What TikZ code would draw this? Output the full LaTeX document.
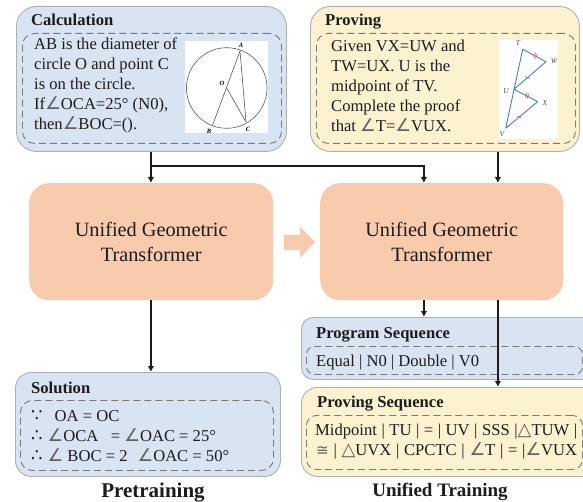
\documentclass[tikz,border=0pt]{standalone}
\usepackage{fontspec}
\setmainfont{Liberation Serif}
\newfontfamily\symf{DejaVu Sans}
\usetikzlibrary{arrows.meta,positioning,calc}
\definecolor{bluebg}{HTML}{D9E4F2}
\definecolor{yellowbg}{HTML}{FDF2CF}
\definecolor{orangebg}{HTML}{F8CBAD}
\definecolor{edgegray}{HTML}{ABB0B5}
\definecolor{dashgray}{HTML}{7A7A7A}
\definecolor{inkc}{HTML}{1C1C1C}
\definecolor{symc}{HTML}{606060}
\definecolor{figblue}{HTML}{4A7CC4}
\definecolor{figred}{HTML}{D9534F}
\newcommand{\ang}{{\symf\fontsize{17.5}{17.5}\selectfont\color{symc}∠}}
\newcommand{\tri}{{\symf\fontsize{18}{18}\selectfont\color{symc}△}}
\newcommand{\sy}[1]{{\symf\fontsize{18}{18}\selectfont #1}}
\newcommand{\congsym}{{\symf\fontsize{15}{15}\selectfont\color{symc}≅}}
\newcommand{\lowered}[1]{\raisebox{-1.5pt}{#1}}
\tikzset{
  outerbox/.style={draw=edgegray,line width=0.9pt,rounded corners=#1,inner sep=0pt,anchor=north west},
  outerbox/.default=20pt,
  innerbox/.style={draw=dashgray,line width=0.9pt,dash pattern=on 7pt off 4pt,rounded corners=12pt,inner sep=0pt,anchor=north west},
  head/.style={font=\fontsize{16.6}{18}\selectfont\bfseries,text=inkc,anchor=base west,inner sep=0pt},
  body/.style={font=\fontsize{16.6}{20}\selectfont,text=inkc,anchor=north west,align=left,inner sep=0pt},
  textline/.style={font=\fontsize{16.6}{20}\selectfont,text=inkc,anchor=base west,inner sep=0pt},
  unified/.style={fill=orangebg,rounded corners=20pt,inner sep=0pt,anchor=north west,minimum width=#1,minimum height=117pt,align=center,
    font=\fontsize{20.3}{25}\selectfont,text=inkc},
  caption/.style={font=\fontsize{21}{24}\selectfont\bfseries,text=inkc,anchor=base,inner sep=0pt},
  arrow/.style={draw=inkc,line width=1.3pt,-{Latex[length=6pt,width=6.5pt]}},
  fig/.style={fill=white,inner sep=0pt,anchor=north west},
  figlabel/.style={font=\fontsize{6.5}{6.5}\selectfont\itshape\bfseries,inner sep=0pt},
  figlabelb/.style={font=\fontsize{7.5}{7.5}\selectfont\itshape,text=black!70,inner sep=0pt},
  figline/.style={draw=black!65,line width=0.6pt},
  triline/.style={draw=figblue,line width=0.9pt},
  tickmark/.style={draw=figred,line width=0.6pt},
}
\begin{document}
\begin{tikzpicture}[x=1pt,y=-1pt]
\useasboundingbox (0,0) rectangle (583,502);
\clip (0,0) rectangle (583,502);
\fill[white] (0,0) rectangle (583,502);

% outer boxes
\node[outerbox,fill=bluebg,minimum width=270pt,minimum height=145pt] (calc) at (16,6) {};
\node[outerbox,fill=yellowbg,minimum width=269pt,minimum height=145pt] (prov) at (310,6) {};
\node[outerbox=16pt,fill=bluebg,minimum width=265pt,minimum height=104pt] (sol) at (15,372) {};
\node[outerbox=12pt,fill=bluebg,minimum width=300pt,minimum height=62pt] (prog) at (301,317) {};
\node[outerbox=16pt,fill=yellowbg,minimum width=300pt,minimum height=89pt] (pseq) at (301,387) {};

% dashed inner boxes
\node[innerbox,minimum width=259pt,minimum height=110pt] (calcin) at (22,33) {};
\node[innerbox,minimum width=259pt,minimum height=110pt] (provin) at (316,33) {};
\node[innerbox,minimum width=253pt,minimum height=70pt] (solin) at (20,400) {};
\node[innerbox,rounded corners=8pt,minimum width=276pt,minimum height=28pt] (progin) at (306,346) {};
\node[innerbox,rounded corners=10pt,minimum width=276pt,minimum height=54pt] (pseqin) at (306,415) {};

% headings
\node[head] (calch) at (31,26) {Calculation};
\node[head] (provh) at (325,26) {Proving};
\node[head] (solh) at (31,393) {Solution};
\node[head] (progh) at (316,338) {Program Sequence};
\node[head] (pseqh) at (317,407) {Proving Sequence};

% body text
\node[body] (calct) at (34,38) {AB is the diameter of\\circle O and point C\\is on the circle.\\If\ang OCA=25° (N0),\\then\ang BOC=().};
\node[body] (provt) at (331,40) {Given VX=UW and\\TW=UX. U is the\\midpoint of TV.\\Complete the proof\\that \ang T=\ang VUX.};
\node[textline] (sola) at (31,421) {\sy{∵}\hspace{12pt}OA = OC};
\node[textline] (solb) at (31,441) {\sy{∴}\hspace{5pt}\ang OCA\ \ \ = \ang OAC = 25°};
\node[textline] (solc) at (31,461) {\sy{∴}\hspace{5pt}\ang\ BOC = 2\hspace{10pt}\ang OAC = 50°};
\node[textline] (progt) at (316,366) {Equal | N0 | Double | V0};
\node[textline] (pseqa) at (315,435) {\makebox[262pt][s]{Midpoint | TU | = | UV | SSS |\tri TUW |}};
\node[textline] (pseqb) at (316,455) {\makebox[261pt][s]{\congsym\ | \tri UVX | CPCTC | \ang T | = |\ang VUX}};

% figure: circle
\node[fig,minimum width=83pt,minimum height=92pt] (figa) at (185,41) {};
\coordinate (O) at (226.7,88);
\coordinate (A) at (240,51);
\coordinate (B) at (212.3,126);
\coordinate (C) at (246,122);
\draw[figline] (O) circle[radius=40.3];
\draw[figline] (A) -- (B);
\draw[figline] (A) -- (C);
\draw[figline] (O) -- (C);
\node[figlabel] (la) at (241,45) {A};
\node[figlabel] (lb) at (209,131) {B};
\node[figlabel] (lc) at (248,129) {C};
\node[figlabel] (lo) at (222,83) {O};

% figure: triangles
\node[fig,minimum width=59pt,minimum height=99pt] (figb) at (499,40) {};
\coordinate (T) at (522.7,49.3);
\coordinate (W) at (546,61.7);
\coordinate (U) at (514,89.3);
\coordinate (X) at (537.7,101.7);
\coordinate (V) at (505.7,128.3);
\draw[triline,line join=round] (V) -- (T) -- (W) -- (U) -- (X) -- cycle;
\foreach \a/\b in {T/W,U/X}{
  \draw[tickmark] ($(\a)!0.48!(\b)+(-0.3,2.4)$) -- ++(2,-5);
  \draw[tickmark] ($(\a)!0.56!(\b)+(-0.3,2.4)$) -- ++(2,-5);
}
\draw[tickmark] ($(W)!0.58!(U)+(-2.4,-1.2)$) -- ++(4.6,2.2);
\draw[tickmark] ($(X)!0.58!(V)+(-2.4,-1.2)$) -- ++(4.6,2.2);
\node[figlabelb] (lt) at (518,43) {T};
\node[figlabelb] (lw) at (554,61) {W};
\node[figlabelb] (lu) at (506,91) {U};
\node[figlabelb] (lx) at (545,103) {X};
\node[figlabelb] (lv) at (502,134) {V};

% transformers
\node[unified=244pt] (uleft) at (29,183) {\lowered{Unified Geometric}\\\lowered{Transformer}};
\node[unified=243pt] (uright) at (320,183) {\lowered{Unified Geometric}\\\lowered{Transformer}};

% block arrow between the transformers
\fill[orangebg] (284,235) -- (300,235) -- (300,227) -- (315,242) -- (300,258) -- (300,250) -- (284,250) -- cycle;

% connectors
\coordinate (xa) at (150.9,0);
\coordinate (xb) at (423.9,0);
\coordinate (xc) at (497.9,0);
\coordinate (branch) at (150.9,166);
\draw[arrow] (xa |- calc.south) -- (xa |- uleft.north);
\draw[arrow] (branch) -| (xb |- uright.north);
\draw[arrow] (xc |- prov.south) -- (xc |- uright.north);
\draw[arrow] (xa |- uleft.south) -- (xa |- sol.north);
\draw[arrow] (xb |- uright.south) -- (xb |- prog.north);
\draw[arrow] (xc |- uright.south) -- (xc |- pseq.north);

% captions
\node[caption] (cap1) at (153,497) {Pretraining};
\node[caption,font=\fontsize{19}{22}\selectfont\bfseries] (cap2) at (440,496) {Unified Training};
\end{tikzpicture}
\end{document}
